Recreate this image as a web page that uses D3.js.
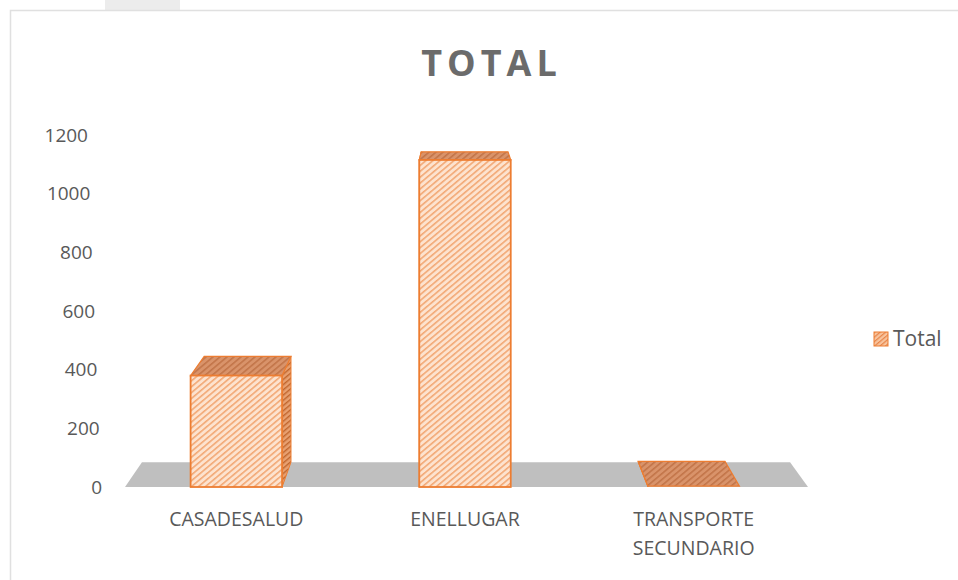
<!DOCTYPE html>
<html>
<head>
<meta charset="utf-8">
<script src="https://cdn.jsdelivr.net/npm/d3@7"></script>
<style>
  body { margin: 0; background: #fff; }
  svg text { font-family: "Open Sans", "Noto Sans", sans-serif; fill: #595959; }
</style>
</head>
<body>
<div id="graph"></div>
<script>
var categories = ['CASADESALUD', 'ENELLUGAR', 'TRANSPORTE SECUNDARIO']
var values = [380, 1115, 3]
var yTicks = [0, 200, 400, 600, 800, 1000, 1200]
var seriesName = 'Total'
var title = 'TOTAL'

var W = 958, H = 580
var orange = '#ed7d31'

var svg = d3.select('#graph').append('svg')
  .attr('width', W).attr('height', H)

// frame like the pasted excel picture
svg.append('rect').attr('x', 105).attr('y', 0).attr('width', 75).attr('height', 10).attr('fill', '#ececec')
svg.append('rect').attr('x', 10.5).attr('y', 10.5).attr('width', W + 20).attr('height', H + 20)
  .attr('fill', 'none').attr('stroke', '#e0e0e0').attr('stroke-width', 1.5)

var defs = svg.append('defs')
function hatch(id, bg, line, size) {
  var p = defs.append('pattern').attr('id', id)
    .attr('patternUnits', 'userSpaceOnUse').attr('width', size).attr('height', size)
    .attr('patternTransform', 'rotate(-40)')
  p.append('rect').attr('width', size).attr('height', size).attr('fill', bg)
  p.append('rect').attr('width', size).attr('height', size * 0.35).attr('fill', line)
}
hatch('hFront', '#fde3cf', '#f2a774', 4.5)
hatch('hTop', '#d9936a', '#c27448', 4.5)
hatch('hSide', '#e8a070', '#c0652c', 4)
hatch('hLeg', '#f8c49e', '#e8854a', 3.5)

var y = d3.scaleLinear().domain([0, 1200]).range([487, 135])
var x = d3.scaleBand().domain(categories).range([122, 808])
  .paddingInner(0.6).paddingOuter(0.3)

// simple perspective toward a vanishing point, depth 0 = front, 1 = back
var vp = [457, 0], shrink = 0.051
function proj(px, py, depth) {
  var k = 1 - shrink * depth
  return [vp[0] + k * (px - vp[0]), vp[1] + k * (py - vp[1])]
}
function poly(pts) { return 'M' + pts.map(p => p.join(',')).join('L') + 'Z' }

// floor
var f0 = 125, f1 = 808
svg.append('path')
  .attr('d', poly([proj(f0, y(0), 0), proj(f1, y(0), 0), proj(f1, y(0), 1), proj(f0, y(0), 1)]))
  .attr('fill', '#bfbfbf')

// bars
var bars = categories.map((c, i) => ({c: c, v: values[i]}))
bars.forEach(d => {
  var x0 = x(d.c), x1 = x(d.c) + x.bandwidth()
  var yt = y(d.v), yb = y(0)
  var g = svg.append('g')
  var sx = (x0 + x1) / 2 < vp[0] ? x1 : x0
  // side face
  g.append('path')
    .attr('d', poly([proj(sx, yt, 0), proj(sx, yb, 0), proj(sx, yb, 1), proj(sx, yt, 1)]))
    .attr('fill', 'url(#hSide)').attr('stroke', orange).attr('stroke-width', 1)
  // top face
  g.append('path')
    .attr('d', poly([proj(x0, yt, 0), proj(x1, yt, 0), proj(x1, yt, 1), proj(x0, yt, 1)]))
    .attr('fill', 'url(#hTop)').attr('stroke', orange).attr('stroke-width', 1.2)
  // front face
  if (yb - yt > 1) {
    g.append('rect').attr('x', x0).attr('y', yt).attr('width', x1 - x0).attr('height', yb - yt)
      .attr('fill', 'url(#hFront)').attr('stroke', orange).attr('stroke-width', 1.8)
  }
})

// y axis, labels lean slightly like the 3d wall edge
var yAxis = svg.append('g').attr('transform', 'translate(102,0)')
  .call(d3.axisLeft(y).tickValues(yTicks).tickFormat(d3.format('d')).tickSize(0).tickPadding(0))
yAxis.select('.domain').remove()
yAxis.selectAll('text')
  .attr('x', v => -(v / 1200) * 14)
  .style('font-size', '19px').style('font-family', '"Open Sans", sans-serif').attr('fill', '#595959')

// category labels
var xAxis = svg.append('g').attr('transform', 'translate(0,526)')
xAxis.selectAll('text').data(categories).join('text')
  .attr('text-anchor', 'middle')
  .attr('x', d => x(d) + x.bandwidth() / 2)
  .style('font-size', '19.5px')
  .each(function(d) {
    var words = d.split(' ')
    var t = d3.select(this)
    words.forEach((w, i) => {
      t.append('tspan').attr('x', x(d) + x.bandwidth() / 2).attr('y', i * 29).text(w)
    })
  })

// title
var ls = 5
svg.append('text').attr('x', 489 + ls / 2).attr('y', 76).attr('text-anchor', 'middle')
  .style('font-size', '36px').style('font-weight', 'bold').style('letter-spacing', ls + 'px')
  .style('fill', '#6b6b6b')
  .text(title)

// legend
var leg = svg.append('g').attr('transform', 'translate(874,332)')
leg.append('rect').attr('width', 14).attr('height', 14)
  .attr('fill', 'url(#hLeg)').attr('stroke', orange).attr('stroke-width', 1)
leg.append('text').attr('x', 19).attr('y', 7).attr('dy', '0.35em')
  .style('font-size', '21px').text(seriesName)
</script>
</body>
</html>
